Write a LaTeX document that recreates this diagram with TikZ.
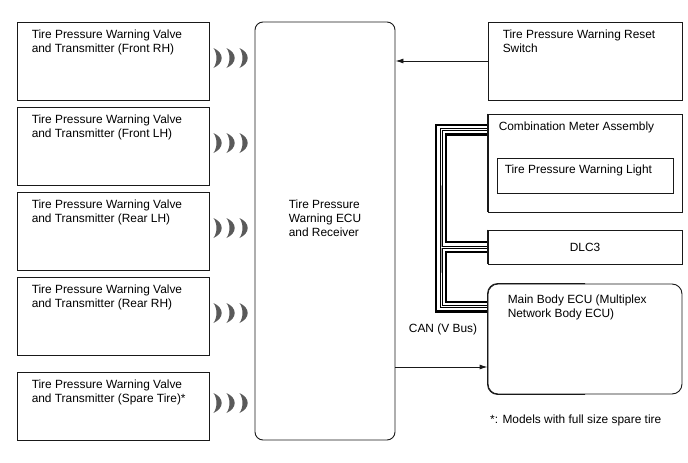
\documentclass[tikz,border=0pt]{standalone}
\usepackage{fontspec}
\setmainfont{Liberation Sans}
\usetikzlibrary{arrows.meta,positioning,calc}
\definecolor{lineCol}{RGB}{25,25,25}
\definecolor{waveCol}{RGB}{90,90,90}
\tikzset{
  unit/.style={draw=lineCol,line width=0.9pt,minimum width=192pt,minimum height=78pt,inner sep=0pt},
  rbox/.style={unit,minimum width=194pt},
  ecubox/.style={unit,rounded corners=8pt,minimum width=140pt,minimum height=418pt},
  txt/.style={anchor=north west,inner sep=0pt,align=left,font=\fontsize{11.9}{14}\selectfont},
  flow/.style={-{Latex[length=8pt,width=5pt]},line width=0.9pt,draw=lineCol},
}
% one crescent of the radio symbol
\newcommand{\crescent}[1]{\fill[waveCol] #1 ++(0,-10) .. controls +(11,5) and +(11,-5) .. ++(0,20)
  .. controls +(4,-5) and +(4,5) .. ++(0,-20) -- cycle;}
% twisted pair of the CAN bus
\newcommand{\canbus}[1]{\draw[#1] ([shift={(0,16)}]cmb.north west) -| (busx) |- ([shift={(0,23)}]main.north west)
  (busx |- dlc.west) -- (dlc.west);}

\begin{document}
\begin{tikzpicture}[x=1pt,y=-1pt]
  \useasboundingbox (0,0) rectangle (688,463);
  \coordinate (busx) at (441,240);

  % transmitters
  \foreach \i/\yc/\h/\t/\s in {1/61/78/Front RH/,2/146/78/Front LH/,3/231/78/Rear LH/,4/316/78/Rear RH/,5/406/68/Spare Tire/*}{
    \node[unit,minimum height=\h pt] (tx\i) at (113,\yc) {};
    \node[txt] (tx\i txt) at ([shift={(15,8)}]tx\i.north west) {Tire Pressure Warning Valve\\and Transmitter (\t)\s};
    \foreach \dx in {4,17,30} {\crescent{($(tx\i.east)+(\dx,-3)$)}}
  }

  \node[ecubox] (ecu) at (325,231) {};
  \node[txt,anchor=center] (ecutxt) at ([shift={(0,-13)}]ecu.center) {Tire Pressure\\Warning ECU\\and Receiver};

  % right column
  \node[rbox] (rst) at (585,61) {};
  \node[txt] (rsttxt) at ([shift={(15,8)}]rst.north west) {Tire Pressure Warning Reset\\Switch};
  \node[rbox,minimum height=98pt] (cmb) at (585,163) {};
  \node[txt] (cmbtxt) at ([shift={(11,8)}]cmb.north west) {Combination Meter Assembly};
  \node[unit,minimum width=176pt,minimum height=35pt] (lamp) at (585,175.5) {};
  \node[txt] (lamptxt) at ([shift={(8,7)}]lamp.north west) {Tire Pressure Warning Light};
  \node[rbox,minimum height=34pt] (dlc) at (585,247) {};
  \node[txt,anchor=center] (dlctxt) at (dlc.center) {DLC3};
  \node[rbox,minimum height=110pt,rounded corners=10pt] (main) at (585,339) {};
  \node[txt] (maintxt) at ([shift={(20,11)}]main.north west) {Main Body ECU (Multiplex\\Network Body ECU)};

  % bus drawn in layers, west edges drawn again on top
  \foreach \w/\c in {12/black,7.4/white,3/black,1/white}
    {\canbus{line width=\w pt,\c}}
  \draw[lineCol,line width=0.9pt] (cmb.north west) -- (cmb.south west)
    (dlc.north west) -- (dlc.south west);
  \draw[lineCol,line width=0.9pt,rounded corners=10pt] (main.north) -| (main.south west) -- (main.south);

  \coordinate (mainin) at ([shift={(0,28)}]main.west);
  \draw[flow] (rst.west) -- (rst.west -| ecu.east);
  \draw[flow] (mainin -| ecu.east) -- (mainin);

  \node[txt,anchor=center] (can) at (443,329) {CAN (V Bus)};
  \node[txt,anchor=west] (note) at (490,420) {*: Models with full size spare tire};
\end{tikzpicture}
\end{document}
